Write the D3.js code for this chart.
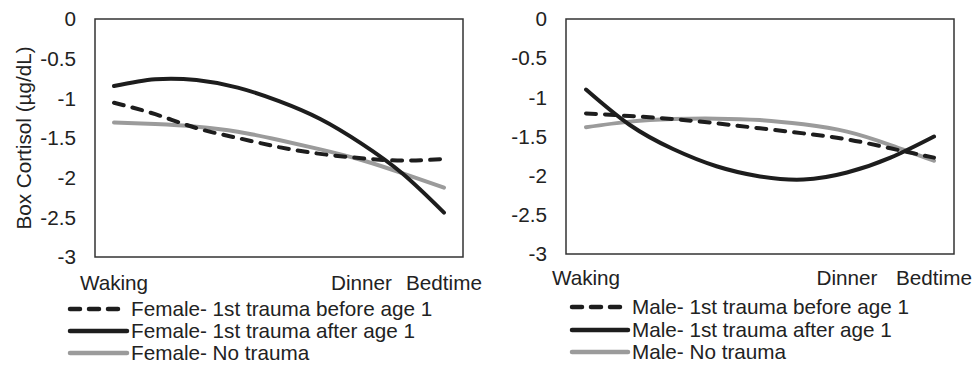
<!DOCTYPE html>
<html>
<head>
<meta charset="utf-8">
<script src="https://cdn.jsdelivr.net/npm/d3@7"></script>
<style>
  body { margin: 0; background: #fff; }
  svg text { font-family: "Liberation Sans", Arial, sans-serif; fill: #222; font-size: 20.7px; }
</style>
</head>
<body>
<div id="wrapper"></div>
<script>
// hours since waking; waking / dinner / bedtime
var hours = [0, 2, 4, 6, 8, 10, 12, 14, 16]
var timeTicks = [0, 12, 16]
var timeLabels = ['Waking', 'Dinner', 'Bedtime']
var yTicks = [0, -0.5, -1, -1.5, -2, -2.5, -3]

var femaleBefore = [-1.055, -1.20, -1.375, -1.50, -1.615, -1.70, -1.755, -1.785, -1.765]
var femaleAfter = [-0.845, -0.76, -0.77, -0.865, -1.035, -1.26, -1.57, -1.95, -2.44]
var femaleNone = [-1.305, -1.325, -1.357, -1.42, -1.525, -1.643, -1.777, -1.945, -2.125]

var maleBefore = [-1.205, -1.238, -1.277, -1.332, -1.396, -1.46, -1.536, -1.651, -1.77]
var maleAfter = [-0.90, -1.35, -1.66, -1.88, -2.01, -2.05, -1.96, -1.77, -1.50]
var maleNone = [-1.382, -1.31, -1.277, -1.272, -1.29, -1.345, -1.438, -1.609, -1.81]

var femaleNames = ['Female- 1st trauma before age 1', 'Female- 1st trauma after age 1', 'Female- No trauma']
var maleNames = ['Male- 1st trauma before age 1', 'Male- 1st trauma after age 1', 'Male- No trauma']

var styles = [
  { color: '#1d1d1d', dash: '10,9' },
  { color: '#1d1d1d', dash: null },
  { color: '#9b9b9b', dash: null }
]

var panels = [
  { series: [femaleBefore, femaleAfter, femaleNone], names: femaleNames,
    x0: 114, x1: 444, pad: 19, top: 19, bottom: 257, xLabelY: 290,
    legX: 70, legW: 57, legY: [309, 331, 353], title: 'Box Cortisol (\u00b5g/dL)' },
  { series: [maleBefore, maleAfter, maleNone], names: maleNames,
    x0: 586, x1: 934, pad: 20, top: 19, bottom: 254, xLabelY: 285,
    legX: 572, legW: 56, legY: [307, 330, 352], title: null }
]

var svg = d3.select('#wrapper')
  .append('svg')
  .attr('width', 977)
  .attr('height', 368)

panels.forEach(function (p) {
  var xScale = d3.scaleLinear().domain([0, 16]).range([p.x0, p.x1])
  var yScale = d3.scaleLinear().domain([0, -3]).range([p.top, p.bottom])
  var left = p.x0 - p.pad, right = p.x1 + p.pad

  var g = svg.append('g')

  g.append('rect')
    .attr('x', left)
    .attr('y', p.top)
    .attr('width', right - left)
    .attr('height', p.bottom - p.top)
    .attr('fill', 'none')
    .attr('stroke', '#333')
    .attr('stroke-width', 1.5)

  g.selectAll('.ytick')
    .data(yTicks)
    .join('text')
    .attr('x', left - 19)
    .attr('y', d => yScale(d))
    .attr('dy', '0.35em')
    .attr('text-anchor', 'end')
    .text(d => d)

  g.selectAll('.xtick')
    .data(timeTicks)
    .join('text')
    .attr('x', d => xScale(d))
    .attr('y', p.xLabelY)
    .attr('text-anchor', 'middle')
    .text((d, i) => timeLabels[i])

  if (p.title) {
    g.append('text')
      .attr('transform', 'translate(31,' + ((p.top + p.bottom) / 2) + ') rotate(-90)')
      .attr('text-anchor', 'middle')
      .text(p.title)
  }

  var lineGenerator = d3.line()
    .x((d, i) => xScale(hours[i]))
    .y(d => yScale(d))
    .curve(d3.curveNatural)

  // grey first so black lines sit on top
  var order = [2, 0, 1]
  order.forEach(function (k) {
    g.append('path')
      .attr('d', lineGenerator(p.series[k]))
      .attr('fill', 'none')
      .attr('stroke', styles[k].color)
      .attr('stroke-width', 4)
      .attr('stroke-linecap', 'round')
      .attr('stroke-dasharray', styles[k].dash)
  })

  // Legend
  p.names.forEach(function (name, k) {
    var ly = p.legY[k]
    g.append('line')
      .attr('x1', p.legX)
      .attr('x2', k === 0 ? p.legX + p.legW - 6 : p.legX + p.legW)
      .attr('y1', ly)
      .attr('y2', ly)
      .attr('stroke', styles[k].color)
      .attr('stroke-width', 4.5)
      .attr('stroke-linecap', 'round')
      .attr('stroke-dasharray', styles[k].dash)
    g.append('text')
      .attr('x', p.legX + p.legW + 4)
      .attr('y', ly + 7)
      .text(name)
  })
})
</script>
</body>
</html>
